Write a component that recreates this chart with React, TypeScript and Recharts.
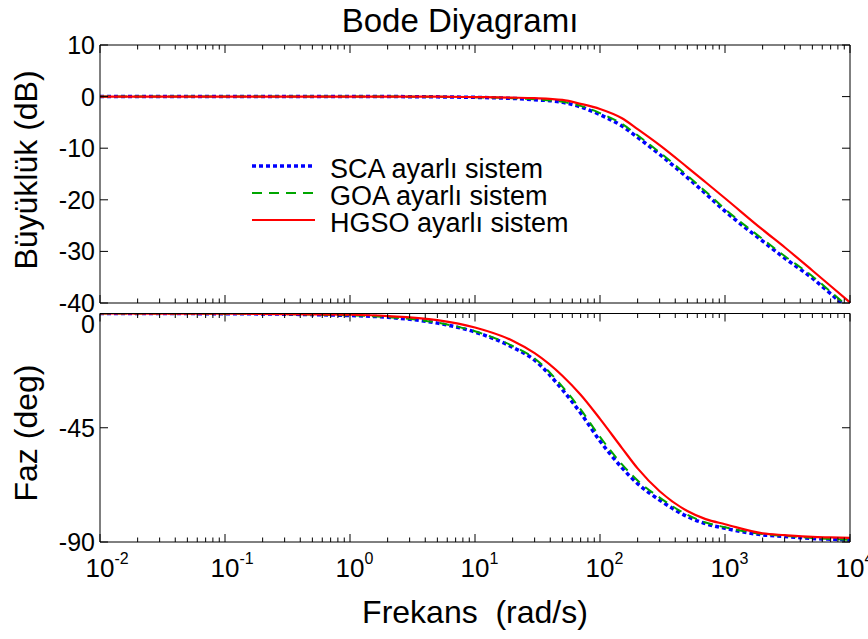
import { LineChart, Line, XAxis, YAxis, Legend } from "recharts";

// frequency points (rad/s)
const freq = [0.01, 0.1, 1, 2, 5, 10, 20, 30, 50, 70, 100, 150, 200, 300, 500, 700, 1000, 2000, 3000, 5000, 7000, 10000];

// magnitude (dB)
const magSCA = [0, 0, 0, 0, -0.05, -0.15, -0.35, -0.6, -1.1, -2.0, -3.5, -5.7, -7.9, -11.2, -15.7, -18.8, -22.2, -28, -31.3, -35.2, -38.2, -41.4];
const magGOA = [0, 0, 0, 0, -0.04, -0.12, -0.3, -0.5, -1.0, -1.8, -3.2, -5.3, -7.5, -10.8, -15.3, -18.4, -21.8, -27.6, -30.9, -34.8, -37.8, -41.0];
const magHGSO = [0, 0, 0, 0, -0.02, -0.1, -0.2, -0.3, -0.65, -1.4, -2.4, -4.2, -6.3, -9.4, -13.7, -16.6, -19.7, -25.8, -29.2, -33.7, -36.7, -39.9];

// phase (deg)
const phaseSCA = [0, -0.08, -0.8, -1.5, -3.8, -7.3, -13.3, -18.4, -30, -39.2, -50.2, -60.8, -67, -73.5, -80, -82.8, -84.6, -87.2, -87.8, -88.6, -88.9, -89.2];
const phaseGOA = [0, -0.07, -0.75, -1.4, -3.6, -7.0, -12.8, -17.7, -28.8, -37.8, -48.6, -59.4, -65.8, -72.5, -79.3, -82.3, -84.2, -86.9, -87.6, -88.4, -88.8, -89.1];
const phaseHGSO = [0, -0.05, -0.5, -1.0, -2.6, -5.5, -10.7, -15.6, -24.5, -32, -41.5, -53, -61, -70, -77.8, -81, -83, -86.6, -87.3, -88, -88.2, -88.4];

const decades = [0.01, 0.1, 1, 10, 100, 1000, 10000];
const decadeLabels = ["-2", "-1", "0", "1", "2", "3", "4"];
const minorSteps = [2, 3, 4, 5, 6, 7, 8, 9];
const magTicks = [10, 0, -10, -20, -30, -40];
const phaseTicks = [0, -45, -90];

const series = [
    { key: "sca", name: "SCA ayarlı sistem", color: "#0000ff", width: 3.5, dash: "4 3" },
    { key: "goa", name: "GOA ayarlı sistem", color: "#00a600", width: 2, dash: "10 7" },
    { key: "hgso", name: "HGSO ayarlı sistem", color: "#ff0000", width: 2.2, dash: undefined },
];

const FONT = '"Liberation Sans", Arial, sans-serif';

const xTicks: number[] = [];
decades.forEach((d, i) => {
    xTicks.push(d);
    if (i < decades.length - 1) minorSteps.forEach((m) => xTicks.push(d * m));
});

const magData = freq.map((f, i) => ({ f, sca: magSCA[i], goa: magGOA[i], hgso: magHGSO[i] }));
const phaseData = freq.map((f, i) => ({ f, sca: phaseSCA[i], goa: phaseGOA[i], hgso: phaseHGSO[i] }));

function XTick(props: any) {
    const { x, y, payload, side, labels } = props;
    const v = payload.value;
    const idx = decades.findIndex((d) => Math.abs(d - v) / d < 1e-6);
    const major = idx >= 0;
    const len = major ? 8 : 4.5;
    const dir = side === "bottom" ? -1 : 1;
    return (
        <g>
            <line x1={x} x2={x} y1={y} y2={y + dir * len} stroke="#000" strokeWidth={1} />
            {labels && major && (
                // "10" centred on the tick, exponent as a raised tspan
                <text x={x - 14.5} y={y + 35} textAnchor="start" fontSize={26} fontFamily={FONT} fill="#000">
                    10<tspan dy={-13} fontSize={16}>{decadeLabels[idx]}</tspan>
                </text>
            )}
        </g>
    );
}

function YTick(props: any) {
    const { x, y, payload, side, labels, topShift } = props;
    const dir = side === "left" ? 1 : -1;
    // the top label of the phase panel sits a bit lower so it clears "-40"
    const shift = topShift && payload.value === 0 ? 10 : 0;
    return (
        <g>
            <line x1={x} x2={x + dir * 8} y1={y} y2={y} stroke="#000" strokeWidth={1} />
            {labels && (
                <text x={x - 5} y={y + shift} textAnchor="end" dominantBaseline="central" fontSize={25} fontFamily={FONT} fill="#000">
                    {payload.value}
                </text>
            )}
        </g>
    );
}

function LegendBox() {
    return (
        <svg width={340} height={90}>
            {series.map((s, i) => (
                <g key={s.key}>
                    <line x1={12} x2={75} y1={16 + i * 27} y2={16 + i * 27} stroke={s.color} strokeWidth={s.width} strokeDasharray={s.dash} />
                    <text x={90} y={28 + i * 27} fontSize={27} fontFamily={FONT} fill="#000">{s.name}</text>
                </g>
            ))}
        </svg>
    );
}

// axis boxes are 1px deep; margins below are reduced by 1 to compensate
function renderAxes(domain: number[], ticks: number[], bottomLabels: boolean) {
    return [
        <XAxis key="xb" xAxisId="b" dataKey="f" type="number" scale="log" domain={[0.01, 10000]} ticks={xTicks} interval={0}
            height={1} tickSize={0} tickMargin={0} tickLine={false} axisLine={{ stroke: "#000" }}
            tick={(p: any) => <XTick {...p} side="bottom" labels={bottomLabels} />} />,
        <XAxis key="xt" xAxisId="t" orientation="top" dataKey="f" type="number" scale="log" domain={[0.01, 10000]} ticks={xTicks} interval={0}
            height={1} tickSize={0} tickMargin={0} tickLine={false} axisLine={{ stroke: "#000" }}
            tick={(p: any) => <XTick {...p} side="top" labels={false} />} />,
        <YAxis key="yl" yAxisId="l" type="number" domain={domain} ticks={ticks} interval={0} allowDataOverflow
            width={1} tickSize={0} tickMargin={0} tickLine={false} axisLine={{ stroke: "#000" }}
            tick={(p: any) => <YTick {...p} side="left" labels topShift={bottomLabels} />} />,
        <YAxis key="yr" yAxisId="r" orientation="right" type="number" domain={domain} ticks={ticks} interval={0} allowDataOverflow
            width={1} tickSize={0} tickMargin={0} tickLine={false} axisLine={{ stroke: "#000" }}
            tick={(p: any) => <YTick {...p} side="right" labels={false} />} />,
    ];
}

function renderLines() {
    return series.map((s) => (
        <Line key={s.key} xAxisId="b" yAxisId="l" dataKey={s.key} name={s.name} type="monotone" dot={false}
            stroke={s.color} strokeWidth={s.width} strokeDasharray={s.dash} isAnimationActive={false} />
    ));
}

export default function App() {
    return (
        <div style={{ position: "absolute", left: 0, top: 0, width: 868, height: 639, background: "#fff" }}>
            <div style={{ position: "absolute", left: 0, top: 0 }}>
                <LineChart width={868} height={330} data={magData} margin={{ top: 44, right: 17, bottom: 26, left: 99 }}>
                    {renderAxes([-40, 10], magTicks, false)}
                    {renderLines()}
                    <Legend layout="vertical" align="center" verticalAlign="middle" content={() => <LegendBox />}
                        wrapperStyle={{ left: 240, top: 150, width: 340, height: 90 }} />
                </LineChart>
            </div>
            <div style={{ position: "absolute", left: 0, top: 290 }}>
                <LineChart width={868} height={349} data={phaseData} margin={{ top: 22.5, right: 17, bottom: 96, left: 99 }}>
                    {renderAxes([-90, 0], phaseTicks, true)}
                    {renderLines()}
                </LineChart>
            </div>
            <svg width={868} height={639} style={{ position: "absolute", left: 0, top: 0, pointerEvents: "none" }}>
                <g fontFamily={FONT} fill="#000">
                    <text x={460} y={32} textAnchor="middle" fontSize={33}>Bode Diyagramı</text>
                    <text x={475} y={623} textAnchor="middle" fontSize={32} style={{ whiteSpace: "pre" }}>Frekans  (rad/s)</text>
                    <text transform="translate(37,170) rotate(-90)" textAnchor="middle" fontSize={32}>Büyüklük (dB)</text>
                    <text transform="translate(37,433) rotate(-90)" textAnchor="middle" fontSize={32}>Faz (deg)</text>
                </g>
            </svg>
        </div>
    );
}
